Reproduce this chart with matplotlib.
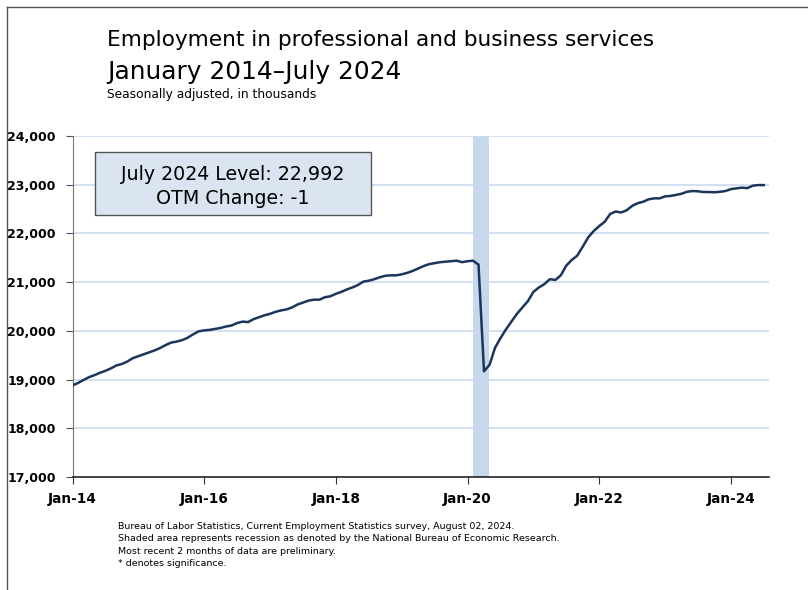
import numpy as np
import matplotlib
matplotlib.use('Agg')
import matplotlib.pyplot as plt
from matplotlib.patches import Rectangle
from matplotlib.lines import Line2D

# monthly employment, Jan 2014 - Jul 2024 (thousands, SA)
values = [
    # 2014
    18880, 18930, 18990, 19050, 19090, 19140, 19180, 19230, 19290, 19320, 19370, 19440,
    # 2015
    19480, 19520, 19560, 19600, 19650, 19710, 19760, 19780, 19810, 19860, 19930, 19990,
    # 2016
    20010, 20020, 20040, 20060, 20090, 20110, 20160, 20190, 20180, 20240, 20280, 20320,
    # 2017
    20350, 20390, 20420, 20440, 20480, 20540, 20580, 20620, 20640, 20640, 20690, 20710,
    # 2018
    20760, 20800, 20850, 20890, 20940, 21010, 21030, 21060, 21100, 21130, 21140, 21140,
    # 2019
    21160, 21190, 21230, 21280, 21330, 21370, 21390, 21410, 21420, 21430, 21440, 21410,
    # 2020
    21430, 21440, 21360, 19170, 19300, 19650, 19850, 20030, 20190, 20350, 20480, 20610,
    # 2021
    20800, 20890, 20960, 21060, 21045, 21140, 21340, 21455, 21545, 21730, 21920, 22050,
    # 2022
    22150, 22240, 22400, 22450, 22430, 22475, 22565, 22620, 22650, 22700, 22720, 22720,
    # 2023
    22760, 22770, 22790, 22815, 22855, 22870, 22865, 22850, 22850, 22845, 22855, 22870,
    # 2024
    22910, 22925, 22940, 22930, 22980, 22993, 22992,
]
months = np.arange(len(values))

xtick_pos = [0, 24, 48, 72, 96, 120]
xtick_labels = ['Jan-14', 'Jan-16', 'Jan-18', 'Jan-20', 'Jan-22', 'Jan-24']
yticks = [17000, 18000, 19000, 20000, 21000, 22000, 23000, 24000]
recession = (73, 76)  # Feb 2020 - Apr 2020

W, H = 808, 590
plt.rcParams['font.family'] = ['DejaVu Sans']

fig = plt.figure(figsize=(W / 100, H / 100), dpi=100)


def fx(px):
    return px / W


def fy(py):
    return 1 - py / H


ax = fig.add_axes([fx(72.5), fy(477), fx(769.3 - 72.5), (477 - 136) / H])

ax.axvspan(recession[0], recession[1], color='#c8d8ec', zorder=1, lw=0)
for y in yticks[1:]:
    ax.axhline(y, color='#c9daf0', lw=1.2, zorder=0)
ax.plot(months, values, color='#1b355c', lw=1.8, zorder=3)

ax.set_xlim(0, 127)
ax.set_ylim(17000, 24000)
ax.set_yticks(yticks)
ax.set_yticklabels([f'{v:,}' for v in yticks], fontweight='bold', fontsize=9)
ax.set_xticks(xtick_pos)
ax.set_xticklabels(xtick_labels, fontweight='bold', fontsize=9.8)
ax.tick_params(axis='y', length=5, width=0.8, color='#555555', pad=7)
ax.tick_params(axis='x', length=5, width=0.8, color='#333333', pad=6)
for s in ['top', 'right']:
    ax.spines[s].set_visible(False)
ax.spines['left'].set_color('#777777')
ax.spines['bottom'].set_color('#111111')
ax.spines['bottom'].set_linewidth(1.1)

# titles
fig.text(fx(107), fy(46), 'Employment in professional and business services',
         fontsize=15.6, va='baseline', ha='left')
fig.text(fx(107), fy(79), 'January 2014\u2013July 2024',
         fontsize=17.9, va='baseline', ha='left')
fig.text(fx(107), fy(98), 'Seasonally adjusted, in thousands',
         fontsize=8.8, va='baseline', ha='left')

# annotation box
fig.patches.append(Rectangle((fx(95), fy(215)), fx(371 - 95), (215 - 152) / H,
                             transform=fig.transFigure, facecolor='#dbe5f1',
                             edgecolor='#555555', lw=1, zorder=5))
fig.text(fx(233), fy(180), 'July 2024 Level: 22,992', fontsize=13.7,
         ha='center', va='baseline', zorder=6)
fig.text(fx(233), fy(204), 'OTM Change: -1', fontsize=13.7,
         ha='center', va='baseline', zorder=6)

# footnotes
notes = [
    'Bureau of Labor Statistics, Current Employment Statistics survey, August 02, 2024.',
    'Shaded area represents recession as denoted by the National Bureau of Economic Research.',
    'Most recent 2 months of data are preliminary.',
    '* denotes significance.',
]
for i, t in enumerate(notes):
    fig.text(fx(118), fy(529 + i * 12.3), t, fontsize=6.8, va='baseline', ha='left')

# outer frame lines
fig.lines.append(Line2D([fx(7), fx(7)], [fy(590), fy(7)], transform=fig.transFigure,
                        color='#555555', lw=1))
fig.lines.append(Line2D([fx(7), fx(808)], [fy(7), fy(7)], transform=fig.transFigure,
                        color='#555555', lw=1))

fig.savefig('out.png', dpi=100)
